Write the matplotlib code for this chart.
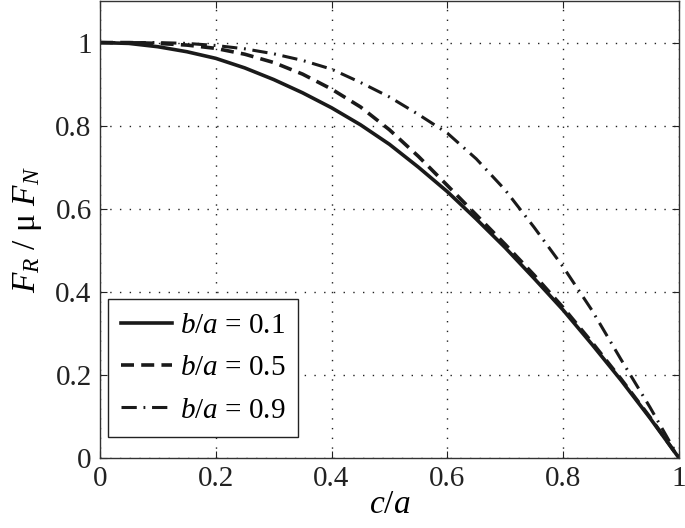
import matplotlib
matplotlib.use("Agg")
import matplotlib.pyplot as plt

plt.rcParams['font.family'] = ['Liberation Serif', 'DejaVu Serif']
plt.rcParams['mathtext.fontset'] = 'custom'
plt.rcParams['mathtext.rm'] = 'Liberation Serif'
plt.rcParams['mathtext.it'] = 'Liberation Serif:italic'

c = [0.0, 0.05, 0.1, 0.15, 0.2, 0.25, 0.3, 0.35, 0.4, 0.45, 0.5,
     0.55, 0.6, 0.65, 0.7, 0.75, 0.8, 0.85, 0.9, 0.95, 1.0]
fr_b01 = [1.0, 0.998, 0.99, 0.978, 0.962, 0.939, 0.911, 0.879, 0.843, 0.802, 0.755,
          0.70, 0.641, 0.575, 0.506, 0.432, 0.356, 0.273, 0.187, 0.096, 0.0]
fr_b05 = [1.0, 1.0, 0.998, 0.994, 0.986, 0.972, 0.952, 0.924, 0.888, 0.845, 0.79,
          0.726, 0.656, 0.585, 0.514, 0.44, 0.362, 0.278, 0.19, 0.098, 0.0]
fr_b09 = [1.0, 1.0, 1.0, 0.998, 0.993, 0.985, 0.973, 0.957, 0.936, 0.904, 0.869,
          0.827, 0.782, 0.72, 0.645, 0.555, 0.46, 0.355, 0.237, 0.122, 0.0]
labels = [r'$b/a$ = 0.1', r'$b/a$ = 0.5', r'$b/a$ = 0.9']
xticks = [0, 0.2, 0.4, 0.6, 0.8, 1]
yticks = [0, 0.2, 0.4, 0.6, 0.8, 1]
xtick_labels = ['0', '0.2', '0.4', '0.6', '0.8', '1']
ytick_labels = ['0', '0.2', '0.4', '0.6', '0.8', '1']

fig = plt.figure(figsize=(6.85, 5.28), dpi=100)
ax = fig.add_axes([0.146, 0.133, 0.845, 0.865])

ax.plot(c, fr_b01, color='#1a1a1a', lw=2.6, ls='-', label=labels[0])
ax.plot(c, fr_b05, color='#1a1a1a', lw=2.6, ls=(0, (3.6, 2.0)), label=labels[1])
ax.plot(c, fr_b09, color='#1a1a1a', lw=2.2, ls=(0, (5.0, 2.2, 0.6, 2.2)), label=labels[2])

ax.set_xlim(0, 1)
ax.set_ylim(0, 1.1)
ax.set_xticks(xticks)
ax.set_xticklabels(xtick_labels)
ax.set_yticks(yticks)
ax.set_yticklabels(ytick_labels)
ax.tick_params(direction='in', top=True, right=True, labelsize=21, length=5,
               width=0.8, colors='#222222', pad=6)
ax.grid(True, ls=(0, (1, 6)), color='#222222', lw=1.0)
for s in ax.spines.values():
    s.set_color('#333333')
    s.set_linewidth(1.0)

ax.set_xlabel(r'$c/a$', fontsize=24, labelpad=-2)
ax.set_ylabel(r'$F_R$ / μ $F_N$', fontsize=24, labelpad=8)

leg = ax.legend(loc='lower left', bbox_to_anchor=(0.014, 0.046), fontsize=21,
                frameon=True, fancybox=False,
                handlelength=1.75, handletextpad=0.25, borderpad=0.45,
                labelspacing=0.55, borderaxespad=0.0)
leg.get_frame().set_edgecolor('#222222')
leg.get_frame().set_linewidth(1.0)
leg.get_frame().set_alpha(1)

fig.savefig('out.png', dpi=100)
